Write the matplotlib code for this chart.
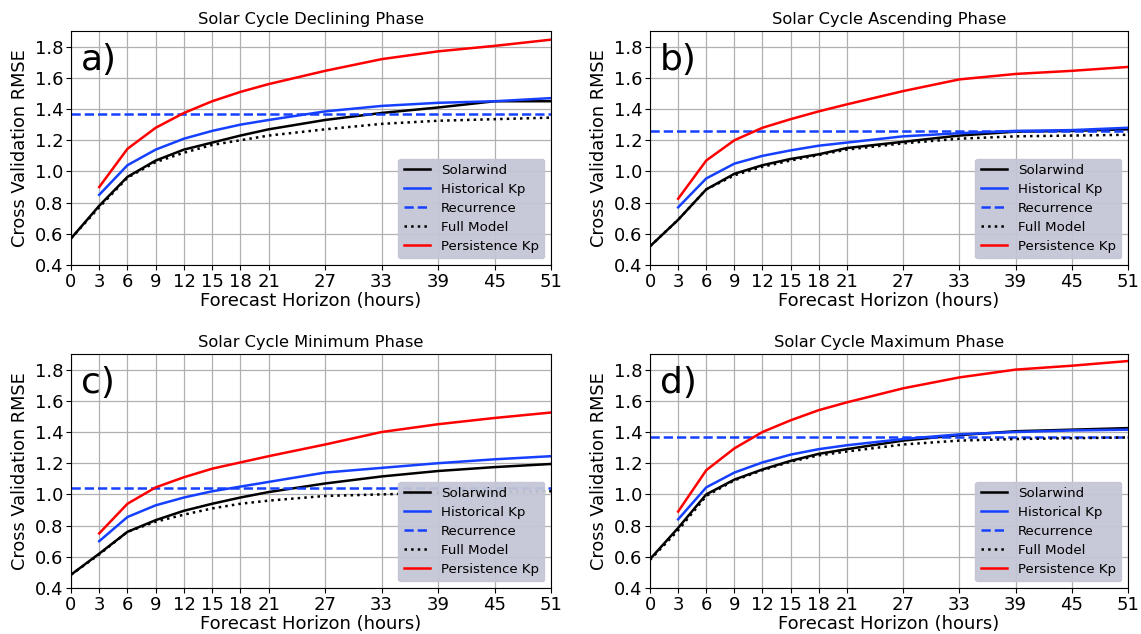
import matplotlib
matplotlib.use("Agg")
import matplotlib.pyplot as plt

hours = [0, 3, 6, 9, 12, 15, 18, 21, 27, 33, 39, 45, 51]
hours_kp = hours[1:]

titles = [
    "Solar Cycle Declining Phase",
    "Solar Cycle Ascending Phase",
    "Solar Cycle Minimum Phase",
    "Solar Cycle Maximum Phase",
]
labels = ["a)", "b)", "c)", "d)"]

# panel a) declining
sw_a = [0.57, 0.78, 0.965, 1.07, 1.14, 1.185, 1.23, 1.27, 1.33, 1.375, 1.41, 1.45, 1.45]
hist_a = [0.85, 1.04, 1.14, 1.21, 1.26, 1.30, 1.33, 1.385, 1.42, 1.44, 1.45, 1.47]
full_a = [0.57, 0.77, 0.96, 1.06, 1.12, 1.17, 1.20, 1.23, 1.27, 1.305, 1.325, 1.335, 1.345]
pers_a = [0.90, 1.145, 1.28, 1.375, 1.45, 1.51, 1.56, 1.645, 1.72, 1.77, 1.805, 1.845]
rec_a = 1.37

# panel b) ascending
sw_b = [0.52, 0.69, 0.885, 0.985, 1.04, 1.08, 1.11, 1.15, 1.19, 1.23, 1.255, 1.26, 1.27]
hist_b = [0.77, 0.955, 1.05, 1.10, 1.135, 1.165, 1.185, 1.225, 1.245, 1.26, 1.265, 1.28]
full_b = [0.52, 0.69, 0.885, 0.975, 1.03, 1.07, 1.105, 1.14, 1.18, 1.21, 1.225, 1.23, 1.235]
pers_b = [0.825, 1.07, 1.20, 1.28, 1.335, 1.385, 1.43, 1.515, 1.59, 1.625, 1.645, 1.67]
rec_b = 1.26

# panel c) minimum
sw_c = [0.485, 0.62, 0.76, 0.835, 0.895, 0.94, 0.98, 1.015, 1.07, 1.115, 1.15, 1.175, 1.195]
hist_c = [0.70, 0.855, 0.93, 0.98, 1.02, 1.05, 1.08, 1.14, 1.17, 1.20, 1.225, 1.245]
full_c = [0.485, 0.615, 0.76, 0.825, 0.87, 0.91, 0.94, 0.96, 0.99, 1.00, 1.01, 1.015, 1.02]
pers_c = [0.75, 0.94, 1.045, 1.11, 1.165, 1.205, 1.245, 1.32, 1.40, 1.45, 1.49, 1.525]
rec_c = 1.04

# panel d) maximum
sw_d = [0.585, 0.785, 1.00, 1.095, 1.16, 1.215, 1.26, 1.29, 1.345, 1.38, 1.405, 1.415, 1.425]
hist_d = [0.84, 1.045, 1.14, 1.205, 1.255, 1.29, 1.315, 1.355, 1.385, 1.40, 1.41, 1.415]
full_d = [0.58, 0.77, 0.99, 1.09, 1.155, 1.21, 1.25, 1.275, 1.32, 1.345, 1.355, 1.36, 1.365]
pers_d = [0.89, 1.155, 1.295, 1.40, 1.475, 1.54, 1.59, 1.68, 1.75, 1.80, 1.825, 1.855]
rec_d = 1.37

panels = [
    (sw_a, hist_a, rec_a, full_a, pers_a),
    (sw_b, hist_b, rec_b, full_b, pers_b),
    (sw_c, hist_c, rec_c, full_c, pers_c),
    (sw_d, hist_d, rec_d, full_d, pers_d),
]

blue = "#1540ff"

fig = plt.figure(figsize=(11.41, 6.34), dpi=100)
boxes = [
    [0.0622, 0.582, 0.4208, 0.369],
    [0.5697, 0.582, 0.4189, 0.369],
    [0.0622, 0.0726, 0.4208, 0.369],
    [0.5697, 0.0726, 0.4189, 0.369],
]

for box, title, lab, (sw, hist, rec, full, pers) in zip(boxes, titles, labels, panels):
    ax = fig.add_axes(box)
    ax.plot(hours, sw, color="black", lw=1.8, label="Solarwind")
    ax.plot(hours_kp, hist, color=blue, lw=1.8, label="Historical Kp")
    ax.axhline(rec, color=blue, lw=1.8, ls="--", label="Recurrence")
    ax.plot(hours, full, color="black", lw=1.8, ls=":", label="Full Model")
    ax.plot(hours_kp, pers, color="red", lw=1.8, label="Persistence Kp")

    ax.set_xlim(0, 51)
    ax.set_ylim(0.4, 1.9)
    ax.set_xticks(hours)
    ax.set_yticks([0.4, 0.6, 0.8, 1.0, 1.2, 1.4, 1.6, 1.8])
    ax.tick_params(labelsize=13, pad=2)
    ax.grid(True, color="#b0b0b0", lw=0.9)
    ax.set_axisbelow(True)
    ax.set_title(title, fontsize=11.7, pad=5)
    ax.set_xlabel("Forecast Horizon (hours)", fontsize=13, labelpad=1)
    ax.set_ylabel("Cross Validation RMSE", fontsize=12.8)
    ax.text(0.02, 0.95, lab, transform=ax.transAxes, fontsize=26, va="top", ha="left")
    ax.legend(loc="lower right", fontsize=9.6, facecolor="#c4c6d6", framealpha=0.95,
              edgecolor="#c4c6d6", handlelength=2.0, labelspacing=0.45)

fig.savefig("out.png", dpi=100)
